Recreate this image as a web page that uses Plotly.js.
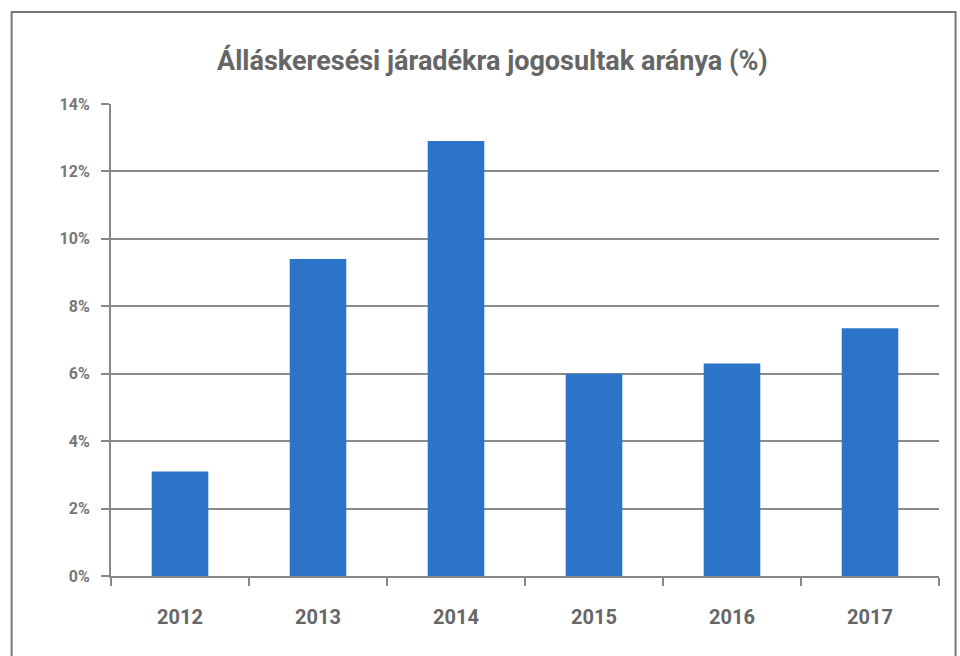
<!DOCTYPE html>
<html><head><meta charset="utf-8">
<script src="https://cdn.plot.ly/plotly-3.0.1.min.js"></script>
<style>body{margin:0;background:#fff}#c{width:960px;height:656px}</style>
</head><body><div id="c"></div>
<script>
const years = ['2012','2013','2014','2015','2016','2017'];
const shares = [3.1, 9.4, 12.9, 6.0, 6.3, 7.35];
const yTicks = [0,2,4,6,8,10,12,14];
const yTickLabels = ['0%','2%','4%','6%','8%','10%','12%','14%'];
const titleText = 'Álláskeresési járadékra jogosultak aránya (%)';

Plotly.newPlot('c', [{
  type:'bar', x: years, y: shares,
  marker:{color:'#2b74c8'}, hoverinfo:'skip'
}], {
  width:960, height:656,
  paper_bgcolor:'#fff', plot_bgcolor:'#fff',
  margin:{l:111, r:21, t:104, b:80},
  bargap:0.59,
  title:{text:'<b>'+titleText+'</b>', x:0.513, xanchor:'center', y:0.907, yanchor:'middle',
         font:{family:'Roboto, Arial, sans-serif', size:27, color:'#666'}},
  xaxis:{type:'category', showline:true, linecolor:'#888', linewidth:2,
         ticks:'outside', tickson:'boundaries', ticklen:8, tickcolor:'#888', tickwidth:2,
         ticklabelstandoff:22,
         tickfont:{family:'Roboto, Arial, sans-serif', size:20, color:'#666', weight:'bold'},
         showgrid:false, zeroline:false},
  yaxis:{range:[0,14], tickvals:yTicks, ticktext:yTickLabels,
         showline:true, linecolor:'#888', linewidth:2,
         ticks:'outside', ticklen:8, tickcolor:'#888', tickwidth:2,
         ticklabelstandoff:8,
         showgrid:true, gridcolor:'#8a8a8a', gridwidth:2, zeroline:false,
         tickfont:{family:'Roboto, Arial, sans-serif', size:16, color:'#777', weight:'bold'}},
  shapes:[{type:'rect', xref:'paper', yref:'paper', x0:-0.12, x1:1.02, y0:-0.2, y1:1.195,
           line:{color:'#777', width:2}, fillcolor:'rgba(0,0,0,0)'}],
  showlegend:false
}, {displayModeBar:false, staticPlot:true});
</script></body></html>
